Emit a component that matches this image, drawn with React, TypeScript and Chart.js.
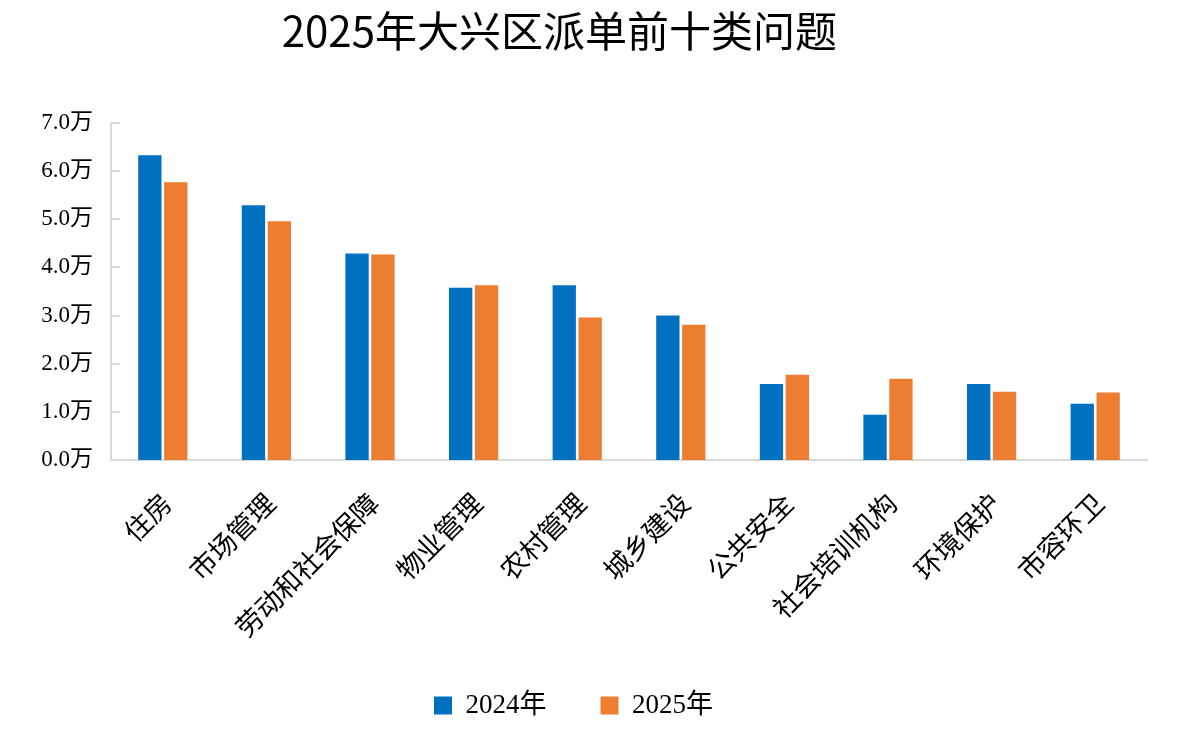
import React, { useRef, useEffect } from "react";
import { Chart, registerables } from "chart.js";

Chart.register(...registerables);

const categories = [
  "住房",
  "市场管理",
  "劳动和社会保障",
  "物业管理",
  "农村管理",
  "城乡建设",
  "公共安全",
  "社会培训机构",
  "环境保护",
  "市容环卫",
];

// 单位：万
const values2024 = [6.33, 5.29, 4.29, 3.58, 3.63, 3.0, 1.58, 0.94, 1.58, 1.17];
const values2025 = [5.77, 4.96, 4.27, 3.63, 2.96, 2.81, 1.77, 1.69, 1.42, 1.4];

const seriesLabels = ["2024年", "2025年"];
const titleText = "2025年大兴区派单前十类问题";

const serifFont = "'Liberation Serif', 'Times New Roman', 'Noto Sans CJK SC', serif";
const axisColor = "#d9d9d9";

// 标题画在图表偏左的位置（参考图中并非居中）
const titlePlugin = {
  id: "customTitle",
  afterDraw(chart: Chart) {
    const ctx = chart.ctx;
    ctx.save();
    ctx.font = "400 42px 'Noto Sans CJK SC', sans-serif";
    ctx.fillStyle = "#000";
    ctx.textAlign = "center";
    ctx.textBaseline = "middle";
    ctx.fillText(titleText, chart.width * 0.474, 31);
    ctx.restore();
  },
};

// y 轴刻度线朝内画
const innerTicksPlugin = {
  id: "innerTicks",
  afterDraw(chart: Chart) {
    const ctx = chart.ctx;
    const y = chart.scales.y;
    const left = chart.chartArea.left;
    ctx.save();
    ctx.strokeStyle = axisColor;
    ctx.lineWidth = 2;
    y.ticks.forEach((t) => {
      const py = Math.round(y.getPixelForValue(t.value));
      ctx.beginPath();
      ctx.moveTo(left, py);
      ctx.lineTo(left + 9, py);
      ctx.stroke();
    });
    ctx.restore();
  },
};

const App: React.FC = () => {
  const chartRef = useRef<HTMLCanvasElement | null>(null);
  const chartInstanceRef = useRef<Chart | null>(null);

  useEffect(() => {
    document.body.style.margin = "0";
    if (!chartRef.current) return;
    if (chartInstanceRef.current) chartInstanceRef.current.destroy();

    chartInstanceRef.current = new Chart(chartRef.current, {
      type: "bar",
      data: {
        labels: categories,
        datasets: [
          {
            label: seriesLabels[0],
            data: values2024,
            backgroundColor: "#0070C0",
            categoryPercentage: 0.5,
            barPercentage: 0.9,
          },
          {
            label: seriesLabels[1],
            data: values2025,
            backgroundColor: "#ED7D31",
            categoryPercentage: 0.5,
            barPercentage: 0.9,
          },
        ],
      },
      options: {
        animation: false,
        responsive: false,
        layout: { padding: { top: 123, right: 33, bottom: 0, left: 0 } },
        plugins: {
          title: { display: false },
          tooltip: { enabled: false },
          legend: {
            position: "bottom",
            labels: {
              boxWidth: 18,
              boxHeight: 18,
              padding: 54,
              color: "#000",
              font: { family: serifFont, size: 27 },
            },
          },
        },
        scales: {
          x: {
            grid: { display: false, drawTicks: false },
            border: { color: axisColor, width: 2 },
            ticks: {
              color: "#000",
              font: { family: serifFont, size: 27 },
              minRotation: 45,
              maxRotation: 45,
              padding: 29,
              labelOffset: 6,
            },
            afterFit(scale) {
              scale.height = 178;
            },
          },
          y: {
            min: 0,
            max: 7,
            grid: { display: false, drawTicks: false },
            border: { color: axisColor, width: 2 },
            ticks: {
              stepSize: 1,
              color: "#000",
              padding: 18,
              font: { family: serifFont, size: 23 },
              callback: (v) => Number(v).toFixed(1) + "万",
            },
            afterFit(scale) {
              scale.width = 111;
            },
          },
        },
      },
      plugins: [titlePlugin, innerTicksPlugin],
    });

    return () => {
      if (chartInstanceRef.current) {
        chartInstanceRef.current.destroy();
        chartInstanceRef.current = null;
      }
    };
  }, []);

  return (
    <div style={{ width: 1180, height: 729, background: "#fff" }}>
      <canvas ref={chartRef} width={1180} height={729} />
    </div>
  );
};

export default App;
